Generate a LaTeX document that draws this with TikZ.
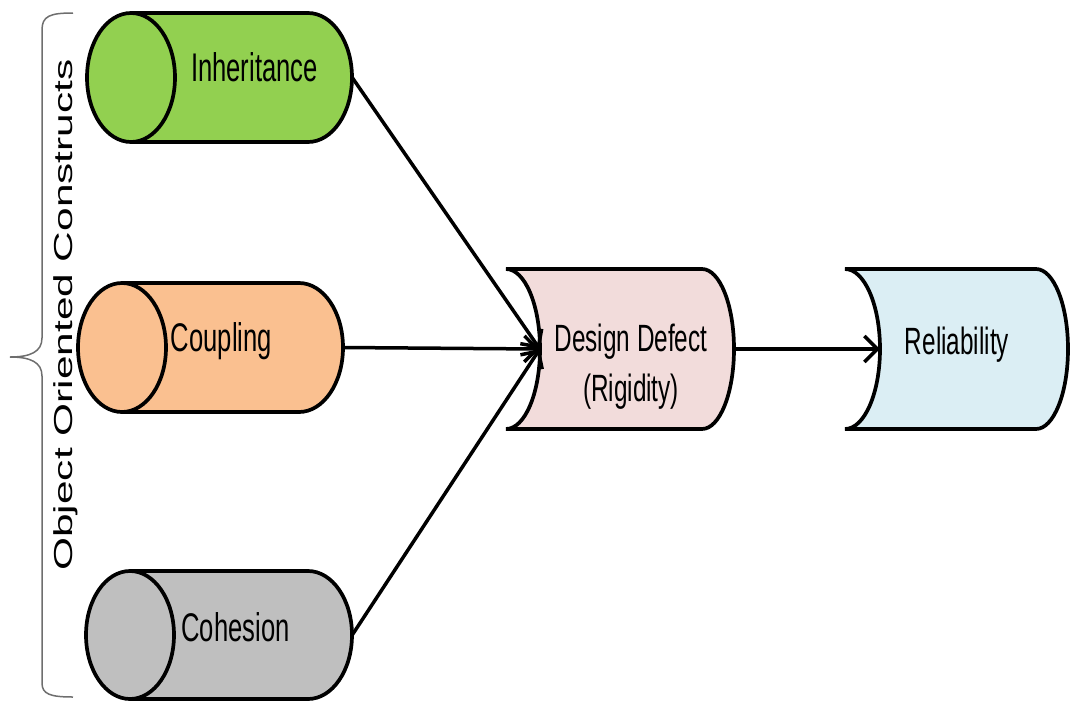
\documentclass[tikz,border=0pt]{standalone}
\usepackage{fontspec}
\setmainfont{Liberation Sans}
\newfontfamily\boxfont[FakeStretch=0.64]{Liberation Sans}
\newfontfamily\sidefont[FakeStretch=1.63]{Liberation Sans}
\usetikzlibrary{arrows.meta,backgrounds}
\definecolor{inhgreen}{HTML}{92D050}
\definecolor{couporange}{HTML}{FAC090}
\definecolor{cohgray}{HTML}{BFBFBF}
\definecolor{defpink}{HTML}{F2DCDB}
\definecolor{relblue}{HTML}{DBEEF4}
\definecolor{bracegray}{HTML}{6E6E6E}
\begin{document}
\begin{tikzpicture}[x=1pt,y=-1pt,
  body/.style={minimum height=129pt,inner sep=0pt},
  store/.style={minimum height=160pt,inner sep=0pt},
  cyltext/.style={font=\boxfont\fontsize{40}{48}\selectfont},
  storetext/.style={font=\boxfont\fontsize{38}{50}\selectfont,align=center},
  outline/.style={line width=3.7pt,draw=black},
  arr/.style={line width=3.5pt,-{Straight Barb[length=13pt,width=26pt,line width=3.5pt]}}]
\useasboundingbox (0,0) rectangle (1071,702);
\draw[bracegray,line width=1.5pt] (73,13) .. controls (50,13) and (42,16) .. (42,30) -- (42,338) .. controls (42,352) and (30,357) .. (10,357) .. controls (30,357) and (42,362) .. (42,376) -- (42,683) .. controls (42,694) and (50,697) .. (73,697);
\node[font=\sidefont\fontsize{26}{30}\selectfont,rotate=90,anchor=base] (side) at (72,315) {Object Oriented Constructs};
\node[body,minimum width=221pt,label={[cyltext,xshift=13pt,yshift=10pt]center:Inheritance}] (inh) at (241.5,77.5) {};
\node[body,minimum width=221pt,label={[cyltext,xshift=-11pt,yshift=6pt]center:Coupling}] (coup) at (232.5,347.5) {};
\node[body,minimum width=222pt,label={[cyltext,xshift=-5.5pt,yshift=7.5pt]center:Cohesion}] (coh) at (241,635) {};
\node[store,minimum width=194pt,label={[storetext,xshift=-6pt,yshift=-18pt]center:Design Defect\\(Rigidity)}] (dd) at (637,349) {};
\node[store,minimum width=188pt,label={[storetext,xshift=-17pt,yshift=4pt]center:Reliability}] (rel) at (974,349) {};
\begin{scope}[on background layer]
\draw[outline,fill=inhgreen] (131,13) -- (308,13) arc[start angle=-90,end angle=90,x radius=44,y radius=64.5] -- (131,142) arc[start angle=90,end angle=270,x radius=44,y radius=64.5] -- cycle;
\draw[outline] (131,13) arc[start angle=-90,end angle=90,x radius=44,y radius=64.5];
\draw[outline,fill=couporange] (122,283) -- (299,283) arc[start angle=-90,end angle=90,x radius=44,y radius=64.5] -- (122,412) arc[start angle=90,end angle=270,x radius=44,y radius=64.5] -- cycle;
\draw[outline] (122,283) arc[start angle=-90,end angle=90,x radius=44,y radius=64.5];
\draw[outline,fill=cohgray] (130,571) -- (308,571) arc[start angle=-90,end angle=90,x radius=44,y radius=64] -- (130,699) arc[start angle=90,end angle=270,x radius=44,y radius=64] -- cycle;
\draw[outline] (130,571) arc[start angle=-90,end angle=90,x radius=44,y radius=64];
\draw[outline,fill=defpink] (506,269) -- (702,269) arc[start angle=-90,end angle=90,x radius=32,y radius=80] -- (506,429) arc[start angle=90,end angle=-90,x radius=34,y radius=80] -- cycle;
\draw[outline,fill=relblue] (845,269) -- (1036,269) arc[start angle=-90,end angle=90,x radius=32,y radius=80] -- (845,429) arc[start angle=90,end angle=-90,x radius=35,y radius=80] -- cycle;
\end{scope}
\draw[arr] (inh.east) -- (dd.west);
\draw[arr] (coup.east) -- (dd.west);
\draw[arr] (coh.east) -- (dd.west);
\draw[arr] (dd.east) -- (rel.west);
\end{tikzpicture}
\end{document}
